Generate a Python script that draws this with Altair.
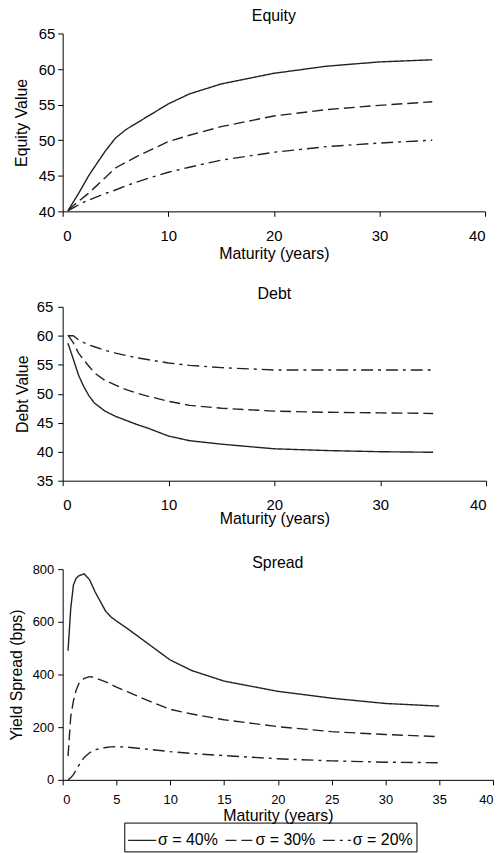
import altair as alt
import pandas as pd

FONT = "Liberation Sans"
series = ["σ = 40%", "σ = 30%", "σ = 20%"]
dash_styles = [[1, 0], [11, 5], [12, 5, 3, 5]]

# Equity panel
eq_x = [0.5, 1, 1.5, 2, 2.5, 3, 4, 5, 6, 7, 8, 10, 12, 15, 20, 25, 30, 35]
eq_40 = [40.1, 41.3, 42.5, 43.8, 45.1, 46.2, 48.4, 50.3, 51.5, 52.4, 53.3, 55.1, 56.5, 57.9, 59.4, 60.4, 61.0, 61.3]
eq_30 = [40.1, 40.8, 41.4, 42.0, 42.6, 43.3, 44.7, 46.1, 46.9, 47.7, 48.4, 49.8, 50.7, 51.9, 53.4, 54.3, 54.9, 55.4]
eq_20 = [40.1, 40.5, 40.9, 41.3, 41.6, 41.9, 42.5, 43.0, 43.6, 44.1, 44.6, 45.5, 46.2, 47.2, 48.3, 49.1, 49.6, 50.0]

# Debt panel
debt_x = [0.5, 1, 1.5, 2, 2.5, 3, 4, 5, 6, 7, 8, 10, 12, 15, 20, 25, 30, 35]
debt_40 = [58.7, 56.0, 53.2, 51.2, 49.6, 48.4, 47.0, 46.1, 45.4, 44.7, 44.1, 42.7, 41.9, 41.3, 40.5, 40.2, 40.0, 39.9]
debt_30 = [60.1, 58.8, 57.0, 55.8, 54.7, 53.6, 52.3, 51.5, 50.7, 50.1, 49.6, 48.7, 48.0, 47.5, 47.0, 46.8, 46.7, 46.6]
debt_20 = [60.0, 60.0, 59.3, 58.8, 58.4, 58.1, 57.5, 57.0, 56.6, 56.2, 55.9, 55.3, 54.9, 54.5, 54.1, 54.1, 54.1, 54.1]

# Spread panel
sp_x = [0.5, 0.75, 1, 1.25, 1.5, 2, 2.5, 3, 4, 4.5, 5, 6, 7, 8, 10, 12, 15, 20, 25, 30, 35]
sp_40 = [490, 650, 740, 765, 775, 782, 760, 715, 640, 618, 603, 575, 545, 515, 455, 415, 375, 336, 310, 290, 280]
sp_30 = [90, 240, 300, 340, 365, 385, 392, 388, 372, 362, 352, 335, 317, 300, 268, 250, 228, 202, 183, 172, 164]
sp_20 = [0, 8, 20, 38, 55, 85, 103, 114, 123, 125, 126, 124, 120, 116, 107, 100, 92, 80, 72, 67, 65]


def long_df(x, ys):
    rows = []
    for s, y in zip(series, ys):
        for xi, yi in zip(x, y):
            rows.append({"m": xi, "v": yi, "s": s})
    return pd.DataFrame(rows)


dash_scale = alt.Scale(domain=series, range=dash_styles)
LINE = dict(color="#222222", strokeWidth=1.4)

LEGEND = alt.Legend(
    orient="none", legendX=62, legendY=794, direction="horizontal", columns=3,
    title=None, symbolType="stroke", symbolSize=800, symbolStrokeWidth=1.3,
    symbolStrokeColor="#222222", labelFont=FONT, labelFontSize=16, labelColor="black",
    labelOffset=1, columnPadding=4, strokeColor="black", padding=3,
)


def axis(values, title, label_size, label_pad, title_pad, title_size=16):
    return alt.Axis(values=values, title=title, grid=False, labelFont=FONT, titleFont=FONT,
                    labelFontSize=label_size, titleFontSize=title_size, labelColor="black",
                    titleColor="black", titleFontWeight="normal", domainColor="black",
                    tickColor="black", tickSize=5, labelPadding=label_pad, titlePadding=title_pad)


def title(text, offset):
    return alt.Title(text, font=FONT, fontSize=16, fontWeight="normal", color="black", offset=offset)


dash_enc = alt.StrokeDash("s:N", scale=dash_scale, legend=LEGEND)

p1 = alt.Chart(long_df(eq_x, [eq_40, eq_30, eq_20]), title=title("Equity", 3)).mark_line(**LINE).encode(
    x=alt.X("m:Q", scale=alt.Scale(domain=[0, 40], nice=False),
            axis=axis([0, 10, 20, 30, 40], "Maturity (years)", 15, 12, 2)),
    y=alt.Y("v:Q", scale=alt.Scale(domain=[40, 65], nice=False, zero=False),
            axis=axis([40, 45, 50, 55, 60, 65], "Equity Value", 15, 3, 9)),
    strokeDash=dash_enc,
).properties(width=425, height=179)

p2 = alt.Chart(long_df(debt_x, [debt_40, debt_30, debt_20]), title=title("Debt", -2)).mark_line(**LINE).encode(
    x=alt.X("m:Q", scale=alt.Scale(domain=[0, 40], nice=False),
            axis=axis([0, 10, 20, 30, 40], "Maturity (years)", 15, 12, -2)),
    y=alt.Y("v:Q", scale=alt.Scale(domain=[35, 65], nice=False, zero=False),
            axis=axis([35, 40, 45, 50, 55, 60, 65], "Debt Value", 15, 5, 6)),
    strokeDash=dash_enc,
).properties(width=426, height=175)

p3 = alt.Chart(long_df(sp_x, [sp_40, sp_30, sp_20]), title=title("Spread", -8)).mark_line(**LINE).encode(
    x=alt.X("m:Q", scale=alt.Scale(domain=[0, 40], nice=False),
            axis=axis(list(range(0, 45, 5)), "Maturity (years)", 13, 9, 1)),
    y=alt.Y("v:Q", scale=alt.Scale(domain=[0, 800], nice=False),
            axis=axis([0, 200, 400, 600, 800], "Yield Spread (bps)", 13, 4, 8)),
    strokeDash=dash_enc,
).properties(width=433, height=212)

chart = alt.vconcat(alt.vconcat(p1, p2, spacing=25), p3, spacing=29).properties(
    padding={"top": -3, "left": 0, "right": 0, "bottom": 0}
).configure_view(stroke=None)

chart.save("out.html", embed_options={"renderer": "svg", "actions": False})
